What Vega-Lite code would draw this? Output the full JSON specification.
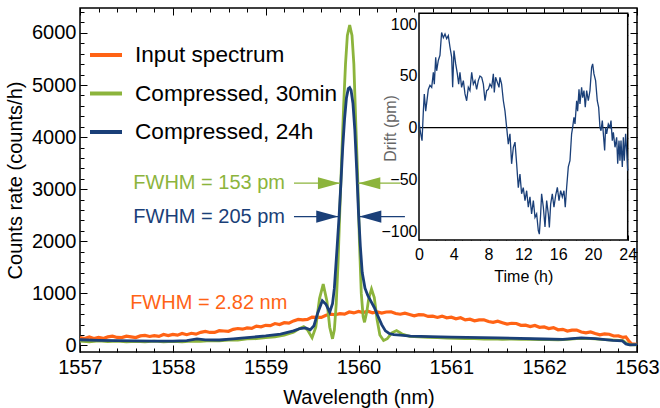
{
"$schema": "https://vega.github.io/schema/vega-lite/v6.json",
"width": 557, "height": 344,
"autosize": "none",
"padding": {"left": 80, "top": 8, "right": 23, "bottom": 56},
"background": "white",
"config": {
  "view": {"stroke": "black", "strokeWidth": 1.5},
  "font": "Liberation Sans",
  "axis": {"domain": false, "grid": false, "tickColor": "black", "tickWidth": 1, "labelColor": "black", "labelFont": "Liberation Sans", "titleFont": "Liberation Sans", "titleFontWeight": "normal", "titleColor": "black", "labelFlush": false, "labelOverlap": false, "labelBound": false}
},
"datasets": {
  "input": [
{"wl":1557.00,"c":152},{"wl":1557.05,"c":134},{"wl":1557.10,"c":163},{"wl":1557.15,"c":134},{"wl":1557.20,"c":156},{"wl":1557.25,"c":136},{"wl":1557.30,"c":165},{"wl":1557.35,"c":178},{"wl":1557.40,"c":154},{"wl":1557.45,"c":151},
{"wl":1557.50,"c":180},{"wl":1557.55,"c":166},{"wl":1557.60,"c":153},{"wl":1557.65,"c":184},{"wl":1557.70,"c":193},{"wl":1557.75,"c":173},{"wl":1557.80,"c":189},{"wl":1557.85,"c":175},{"wl":1557.90,"c":212},{"wl":1557.95,"c":190},
{"wl":1558.00,"c":212},{"wl":1558.05,"c":198},{"wl":1558.10,"c":232},{"wl":1558.15,"c":207},{"wl":1558.20,"c":234},{"wl":1558.25,"c":218},{"wl":1558.30,"c":252},{"wl":1558.35,"c":269},{"wl":1558.40,"c":250},{"wl":1558.45,"c":251},
{"wl":1558.50,"c":285},{"wl":1558.55,"c":278},{"wl":1558.60,"c":272},{"wl":1558.65,"c":310},{"wl":1558.70,"c":326},{"wl":1558.75,"c":313},{"wl":1558.80,"c":336},{"wl":1558.85,"c":329},{"wl":1558.90,"c":373},{"wl":1558.95,"c":358},
{"wl":1559.00,"c":387},{"wl":1559.05,"c":380},{"wl":1559.10,"c":421},{"wl":1559.15,"c":403},{"wl":1559.20,"c":437},{"wl":1559.25,"c":428},{"wl":1559.30,"c":472},{"wl":1559.35,"c":499},{"wl":1559.40,"c":490},{"wl":1559.45,"c":501},
{"wl":1559.50,"c":545},{"wl":1559.55,"c":541},{"wl":1559.60,"c":539},{"wl":1559.65,"c":580},{"wl":1559.70,"c":600},{"wl":1559.75,"c":590},{"wl":1559.80,"c":611},{"wl":1559.85,"c":601},{"wl":1559.90,"c":643},{"wl":1559.95,"c":625},
{"wl":1560.00,"c":652},{"wl":1560.05,"c":631},{"wl":1560.10,"c":658},{"wl":1560.15,"c":626},{"wl":1560.20,"c":646},{"wl":1560.25,"c":623},{"wl":1560.30,"c":643},{"wl":1560.35,"c":646},{"wl":1560.40,"c":613},{"wl":1560.45,"c":600},
{"wl":1560.50,"c":620},{"wl":1560.55,"c":595},{"wl":1560.60,"c":571},{"wl":1560.65,"c":591},{"wl":1560.70,"c":589},{"wl":1560.75,"c":558},{"wl":1560.80,"c":563},{"wl":1560.85,"c":538},{"wl":1560.90,"c":564},{"wl":1560.95,"c":531},
{"wl":1561.00,"c":542},{"wl":1561.05,"c":513},{"wl":1561.10,"c":532},{"wl":1561.15,"c":492},{"wl":1561.20,"c":504},{"wl":1561.25,"c":473},{"wl":1561.30,"c":492},{"wl":1561.35,"c":494},{"wl":1561.40,"c":460},{"wl":1561.45,"c":446},
{"wl":1561.50,"c":465},{"wl":1561.55,"c":437},{"wl":1561.60,"c":410},{"wl":1561.65,"c":427},{"wl":1561.70,"c":422},{"wl":1561.75,"c":388},{"wl":1561.80,"c":390},{"wl":1561.85,"c":362},{"wl":1561.90,"c":385},{"wl":1561.95,"c":349},
{"wl":1562.00,"c":357},{"wl":1562.05,"c":326},{"wl":1562.10,"c":343},{"wl":1562.15,"c":301},{"wl":1562.20,"c":311},{"wl":1562.25,"c":278},{"wl":1562.30,"c":295},{"wl":1562.35,"c":295},{"wl":1562.40,"c":259},{"wl":1562.45,"c":243},
{"wl":1562.50,"c":260},{"wl":1562.55,"c":231},{"wl":1562.60,"c":205},{"wl":1562.65,"c":221},{"wl":1562.70,"c":216},{"wl":1562.75,"c":182},{"wl":1562.80,"c":184},{"wl":1562.85,"c":155},{"wl":1562.88,"c":165},{"wl":1562.91,"c":90},
{"wl":1562.94,"c":30},{"wl":1563.00,"c":22}
  ],
  "c30": [
{"wl":1557.0,"c":85},{"wl":1557.1,"c":72},{"wl":1557.2,"c":88},{"wl":1557.3,"c":74},{"wl":1557.4,"c":84},{"wl":1557.5,"c":70},{"wl":1557.6,"c":80},{"wl":1557.7,"c":68},{"wl":1557.8,"c":82},{"wl":1557.9,"c":70},
{"wl":1558.0,"c":78},{"wl":1558.1,"c":72},{"wl":1558.2,"c":84},{"wl":1558.3,"c":80},{"wl":1558.4,"c":92},{"wl":1558.5,"c":88},{"wl":1558.6,"c":104},{"wl":1558.7,"c":102},{"wl":1558.8,"c":126},{"wl":1558.9,"c":130},
{"wl":1559.0,"c":152},{"wl":1559.1,"c":165},{"wl":1559.2,"c":200},{"wl":1559.3,"c":255},{"wl":1559.36,"c":320},{"wl":1559.41,"c":360},{"wl":1559.45,"c":300},{"wl":1559.50,"c":150},{"wl":1559.54,"c":350},{"wl":1559.58,"c":900},
{"wl":1559.62,"c":1178},{"wl":1559.66,"c":850},{"wl":1559.69,"c":350},{"wl":1559.72,"c":128},{"wl":1559.74,"c":300},{"wl":1559.76,"c":800},{"wl":1559.78,"c":1600},{"wl":1559.80,"c":2650},{"wl":1559.82,"c":3650},{"wl":1559.84,"c":4600},
{"wl":1559.86,"c":5400},{"wl":1559.88,"c":5950},{"wl":1559.905,"c":6150},{"wl":1559.93,"c":5950},{"wl":1559.95,"c":5400},{"wl":1559.97,"c":4300},{"wl":1559.99,"c":3300},{"wl":1560.01,"c":2000},{"wl":1560.03,"c":1000},{"wl":1560.05,"c":550},
{"wl":1560.065,"c":445},{"wl":1560.09,"c":650},{"wl":1560.11,"c":900},{"wl":1560.14,"c":1085},{"wl":1560.17,"c":920},{"wl":1560.20,"c":500},{"wl":1560.23,"c":200},{"wl":1560.27,"c":95},{"wl":1560.31,"c":130},{"wl":1560.36,"c":240},
{"wl":1560.41,"c":286},{"wl":1560.47,"c":220},{"wl":1560.55,"c":175},{"wl":1560.65,"c":168},{"wl":1560.75,"c":158},{"wl":1560.85,"c":150},{"wl":1560.95,"c":142},{"wl":1561.05,"c":138},{"wl":1561.15,"c":130},{"wl":1561.25,"c":134},
{"wl":1561.35,"c":125},{"wl":1561.45,"c":128},{"wl":1561.55,"c":120},{"wl":1561.65,"c":124},{"wl":1561.75,"c":116},{"wl":1561.85,"c":120},{"wl":1561.95,"c":112},{"wl":1562.05,"c":115},{"wl":1562.15,"c":108},{"wl":1562.25,"c":118},
{"wl":1562.35,"c":130},{"wl":1562.45,"c":138},{"wl":1562.55,"c":125},{"wl":1562.65,"c":112},{"wl":1562.75,"c":104},{"wl":1562.85,"c":92},{"wl":1562.89,"c":35},{"wl":1562.93,"c":12},{"wl":1563.0,"c":12}
  ],
  "c24": [
{"wl":1557.0,"c":110},{"wl":1557.2,"c":100},{"wl":1557.4,"c":95},{"wl":1557.6,"c":88},{"wl":1557.8,"c":84},{"wl":1558.0,"c":84},{"wl":1558.15,"c":95},{"wl":1558.26,"c":125},{"wl":1558.35,"c":108},{"wl":1558.5,"c":105},
{"wl":1558.65,"c":125},{"wl":1558.8,"c":150},{"wl":1559.0,"c":185},{"wl":1559.16,"c":220},{"wl":1559.3,"c":280},{"wl":1559.37,"c":325},{"wl":1559.43,"c":338},{"wl":1559.48,"c":300},{"wl":1559.52,"c":380},{"wl":1559.56,"c":620},
{"wl":1559.61,"c":860},{"wl":1559.65,"c":790},{"wl":1559.69,"c":640},{"wl":1559.72,"c":800},{"wl":1559.74,"c":1100},{"wl":1559.77,"c":1900},{"wl":1559.79,"c":2450},{"wl":1559.81,"c":3100},{"wl":1559.83,"c":3800},{"wl":1559.85,"c":4350},
{"wl":1559.87,"c":4750},{"wl":1559.89,"c":4930},{"wl":1559.905,"c":4950},{"wl":1559.92,"c":4900},{"wl":1559.94,"c":4650},{"wl":1559.96,"c":4150},{"wl":1559.98,"c":3400},{"wl":1560.00,"c":2550},{"wl":1560.02,"c":1900},{"wl":1560.04,"c":1400},
{"wl":1560.07,"c":1100},{"wl":1560.10,"c":960},{"wl":1560.13,"c":860},{"wl":1560.17,"c":730},{"wl":1560.21,"c":560},{"wl":1560.25,"c":400},{"wl":1560.29,"c":280},{"wl":1560.33,"c":230},{"wl":1560.38,"c":210},{"wl":1560.45,"c":200},
{"wl":1560.56,"c":180},{"wl":1560.77,"c":170},{"wl":1561.0,"c":160},{"wl":1561.5,"c":145},{"wl":1562.0,"c":125},{"wl":1562.2,"c":118},{"wl":1562.4,"c":145},{"wl":1562.55,"c":130},{"wl":1562.74,"c":100},{"wl":1562.84,"c":90},
{"wl":1562.88,"c":30},{"wl":1562.92,"c":12},{"wl":1563.0,"c":15}
  ],
  "notes": [
{"s":"Compressed, 30min","wl":1557.574,"c":3115,"label":"FWHM = 153 pm"},
{"s":"Compressed, 24h","wl":1557.574,"c":2474,"label":"FWHM = 205 pm"},
{"s":"Input spectrum","wl":1557.54,"c":816,"label":"FWHM = 2.82 nm"}
  ],
  "arrows": [
{"s":"Compressed, 30min","c":3115,"from":1559.305,"tip":1559.80,"dir":"right"},
{"s":"Compressed, 30min","c":3115,"from":1560.447,"tip":1559.998,"dir":"left"},
{"s":"Compressed, 24h","c":2474,"from":1559.305,"tip":1559.782,"dir":"right"},
{"s":"Compressed, 24h","c":2474,"from":1560.50,"tip":1560.009,"dir":"left"}
  ],
  "drift": [
{"t":0,"d":5},{"t":0.2,"d":-6},{"t":0.35,"d":-12.6},{"t":0.5,"d":16},{"t":0.61,"d":32.6},{"t":0.77,"d":16},{"t":1.07,"d":37},{"t":1.26,"d":41},{"t":1.46,"d":39},{"t":1.65,"d":53.5},
{"t":1.76,"d":42},{"t":1.92,"d":68},{"t":2.03,"d":55},{"t":2.22,"d":65},{"t":2.41,"d":70},{"t":2.6,"d":92},{"t":2.8,"d":87},{"t":2.99,"d":90.6},{"t":3.18,"d":86},{"t":3.37,"d":89},
{"t":3.56,"d":78},{"t":3.76,"d":68},{"t":3.87,"d":39},{"t":4.02,"d":74.5},{"t":4.22,"d":61.6},{"t":4.41,"d":52},{"t":4.56,"d":42},{"t":4.71,"d":53.5},{"t":4.9,"d":39},{"t":5.1,"d":45.5},
{"t":5.29,"d":32.6},{"t":5.48,"d":26},{"t":5.67,"d":39},{"t":5.86,"d":35.8},{"t":6.06,"d":53.5},{"t":6.25,"d":42},{"t":6.44,"d":45.5},{"t":6.63,"d":37},{"t":6.82,"d":45.5},{"t":7.01,"d":50},
{"t":7.21,"d":48.7},{"t":7.4,"d":42},{"t":7.59,"d":26},{"t":7.78,"d":35.8},{"t":7.97,"d":37},{"t":8.16,"d":42},{"t":8.36,"d":39},{"t":8.55,"d":52},{"t":8.66,"d":34},{"t":8.81,"d":48.7},
{"t":9.0,"d":44},{"t":9.2,"d":39},{"t":9.31,"d":48.7},{"t":9.5,"d":42},{"t":9.7,"d":26},{"t":9.89,"d":16},{"t":10.08,"d":0.3},{"t":10.27,"d":-16},{"t":10.46,"d":-6},{"t":10.65,"d":-35},
{"t":10.85,"d":-19},{"t":11.04,"d":-14},{"t":11.23,"d":-35},{"t":11.42,"d":-58},{"t":11.61,"d":-45},{"t":11.8,"d":-64},{"t":11.99,"d":-58},{"t":12.19,"d":-70.6},{"t":12.38,"d":-61},{"t":12.57,"d":-77},
{"t":12.76,"d":-67},{"t":12.95,"d":-83.5},{"t":13.15,"d":-70.6},{"t":13.34,"d":-86.8},{"t":13.53,"d":-83.5},{"t":13.72,"d":-99.7},{"t":13.84,"d":-103},{"t":13.99,"d":-83.5},{"t":14.1,"d":-64},{"t":14.3,"d":-77},
{"t":14.49,"d":-96},{"t":14.68,"d":-70.6},{"t":14.87,"d":-83.5},{"t":14.99,"d":-96.5},{"t":15.14,"d":-74},{"t":15.33,"d":-64},{"t":15.52,"d":-77},{"t":15.71,"d":-65.8},{"t":15.91,"d":-57.7},{"t":16.1,"d":-70.6},
{"t":16.29,"d":-61},{"t":16.48,"d":-67},{"t":16.67,"d":-61},{"t":16.82,"d":-77},{"t":16.98,"d":-57.7},{"t":17.17,"d":-38},{"t":17.36,"d":-32},{"t":17.55,"d":-6},{"t":17.67,"d":0.3},{"t":17.82,"d":10},
{"t":17.94,"d":3.5},{"t":18.13,"d":26},{"t":18.24,"d":16},{"t":18.4,"d":37},{"t":18.51,"d":23},{"t":18.7,"d":39},{"t":18.82,"d":29},{"t":18.97,"d":35.8},{"t":19.12,"d":19.7},{"t":19.28,"d":35.8},
{"t":19.47,"d":26},{"t":19.66,"d":35.8},{"t":19.85,"d":58.4},{"t":19.97,"d":61.6},{"t":20.12,"d":52},{"t":20.31,"d":45.5},{"t":20.5,"d":26},{"t":20.66,"d":19.7},{"t":20.81,"d":0.3},{"t":20.93,"d":-3},
{"t":21.08,"d":6.8},{"t":21.2,"d":-6},{"t":21.35,"d":-22},{"t":21.46,"d":0.3},{"t":21.58,"d":-6},{"t":21.77,"d":3.5},{"t":21.96,"d":0.3},{"t":22.08,"d":6.8},{"t":22.23,"d":-12.6},{"t":22.35,"d":-4.5},
{"t":22.54,"d":-19},{"t":22.73,"d":-9.4},{"t":22.85,"d":-35},{"t":23.0,"d":-12.6},{"t":23.11,"d":-32},{"t":23.23,"d":-12.6},{"t":23.38,"d":-38},{"t":23.5,"d":-9.4},{"t":23.61,"d":-32},{"t":23.76,"d":-6},
{"t":23.88,"d":-22},{"t":24.0,"d":-41.6}
  ]
},
"layer": [
 {
  "layer": [
   {
    "data": {"name": "input"},
    "mark": {"type": "line", "strokeWidth": 3.2},
    "encoding": {
     "x": {"field": "wl", "type": "quantitative", "scale": {"domain": [1557, 1563], "nice": false, "zero": false},
       "axis": {"orient": "bottom", "values": [1557,1558,1559,1560,1561,1562,1563], "format": "d", "tickSize": -7, "labelFontSize": 20, "labelPadding": 12, "title": "Wavelength (nm)", "titleFontSize": 20, "titleX": 278.5, "titleY": 45, "titleBaseline": "middle", "titleAlign": "center"}},
     "y": {"field": "c", "type": "quantitative", "scale": {"domain": [-125, 6478], "nice": false, "zero": false},
       "axis": {"orient": "left", "values": [0,1000,2000,3000,4000,5000,6000], "format": "d", "tickSize": -7, "labelFontSize": 20, "labelPadding": 11, "title": "Counts rate (counts/h)", "titleFontSize": 20, "titleX": -65, "titleY": 172, "titleBaseline": "middle", "titleAlign": "center", "titleAngle": -90}},
     "color": {"datum": "Input spectrum", "type": "nominal",
       "scale": {"domain": ["Input spectrum", "Compressed, 30min", "Compressed, 24h"], "range": ["#FF6315", "#8CB43C", "#1A3F78"]},
       "legend": {"orient": "none", "legendX": 8, "legendY": 29, "title": null, "symbolType": "stroke", "symbolStrokeWidth": 4, "symbolSize": 1024, "labelFontSize": 22.6, "labelFont": "Liberation Sans", "labelColor": "black", "labelOffset": 11, "rowPadding": 8.5, "padding": 0, "labelLimit": 400}}
    }
   },
   {
    "data": {"name": "c30"},
    "mark": {"type": "line", "strokeWidth": 2.8},
    "encoding": {
     "x": {"field": "wl", "type": "quantitative", "axis": {"orient": "bottom", "values": [1557,1557.2,1557.4,1557.6,1557.8,1558,1558.2,1558.4,1558.6,1558.8,1559,1559.2,1559.4,1559.6,1559.8,1560,1560.2,1560.4,1560.6,1560.8,1561,1561.2,1561.4,1561.6,1561.8,1562,1562.2,1562.4,1562.6,1562.8,1563], "tickSize": -4, "labels": false, "title": null}},
     "y": {"field": "c", "type": "quantitative", "axis": {"orient": "left", "values": [0,200,400,600,800,1000,1200,1400,1600,1800,2000,2200,2400,2600,2800,3000,3200,3400,3600,3800,4000,4200,4400,4600,4800,5000,5200,5400,5600,5800,6000,6200,6400], "tickSize": -4, "labels": false, "title": null}},
     "color": {"datum": "Compressed, 30min", "type": "nominal"}
    }
   },
   {
    "data": {"name": "c24"},
    "mark": {"type": "line", "strokeWidth": 2.8},
    "encoding": {
     "x": {"field": "wl", "type": "quantitative", "axis": {"orient": "top", "values": [1557,1558,1559,1560,1561,1562,1563], "tickSize": -7, "labels": false, "title": null}},
     "y": {"field": "c", "type": "quantitative", "axis": {"orient": "right", "values": [0,1000,2000,3000,4000,5000,6000], "tickSize": -7, "labels": false, "title": null}},
     "color": {"datum": "Compressed, 24h", "type": "nominal"}
    }
   },
   {
    "data": {"name": "notes"},
    "mark": {"type": "text", "align": "left", "baseline": "middle", "fontSize": 20, "font": "Liberation Sans"},
    "encoding": {
     "x": {"field": "wl", "type": "quantitative", "axis": {"orient": "top", "values": [1557,1557.2,1557.4,1557.6,1557.8,1558,1558.2,1558.4,1558.6,1558.8,1559,1559.2,1559.4,1559.6,1559.8,1560,1560.2,1560.4,1560.6,1560.8,1561,1561.2,1561.4,1561.6,1561.8,1562,1562.2,1562.4,1562.6,1562.8,1563], "tickSize": -4, "labels": false, "title": null}},
     "y": {"field": "c", "type": "quantitative", "axis": {"orient": "right", "values": [0,200,400,600,800,1000,1200,1400,1600,1800,2000,2200,2400,2600,2800,3000,3200,3400,3600,3800,4000,4200,4400,4600,4800,5000,5200,5400,5600,5800,6000,6200,6400], "tickSize": -4, "labels": false, "title": null}},
     "text": {"field": "label"},
     "fill": {"field": "s", "type": "nominal", "legend": null, "scale": {"domain": ["Input spectrum", "Compressed, 30min", "Compressed, 24h"], "range": ["#FF6315", "#8CB43C", "#1A3F78"]}}
    }
   },
   {
    "data": {"name": "arrows"},
    "mark": {"type": "rule", "strokeWidth": 1.2},
    "encoding": {
     "x": {"field": "from", "type": "quantitative", "axis": null},
     "x2": {"field": "tip"},
     "y": {"field": "c", "type": "quantitative", "axis": null},
     "stroke": {"field": "s", "type": "nominal", "legend": null, "scale": {"domain": ["Input spectrum", "Compressed, 30min", "Compressed, 24h"], "range": ["#FF6315", "#8CB43C", "#1A3F78"]}}
    }
   },
   {
    "data": {"name": "arrows"},
    "transform": [{"filter": "datum.dir == 'right'"}],
    "mark": {"type": "point", "filled": true, "opacity": 1, "size": 484, "shape": "M0,0L-2,-0.55L-2,0.55Z", "strokeWidth": 0},
    "encoding": {
     "x": {"field": "tip", "type": "quantitative", "axis": null},
     "y": {"field": "c", "type": "quantitative", "axis": null},
     "fill": {"field": "s", "type": "nominal", "legend": null}
    }
   },
   {
    "data": {"name": "arrows"},
    "transform": [{"filter": "datum.dir == 'left'"}],
    "mark": {"type": "point", "filled": true, "opacity": 1, "size": 484, "shape": "M0,0L2,-0.55L2,0.55Z", "strokeWidth": 0},
    "encoding": {
     "x": {"field": "tip", "type": "quantitative", "axis": null},
     "y": {"field": "c", "type": "quantitative", "axis": null},
     "fill": {"field": "s", "type": "nominal", "legend": null}
    }
   }
  ],
  "resolve": {"axis": {"x": "independent", "y": "independent"}}
 },
 {
  "layer": [
   {
    "data": {"values": [{}]},
    "mark": {"type": "rect", "fill": "white", "stroke": "black", "strokeWidth": 1.5},
    "encoding": {
     "x": {"datum": 0, "type": "quantitative", "scale": {"domain": [0, 24], "range": [339, 547.7], "nice": false, "zero": false},
       "axis": {"orient": "bottom", "offset": -112, "values": [0,4,8,12,16,20,24], "format": "d", "tickSize": -5, "labelFontSize": 16, "labelPadding": 11, "title": "Time (h)", "titleFontSize": 16, "titleX": 443.3, "titleY": 36.7, "titleBaseline": "middle", "titleAlign": "center"}},
     "x2": {"datum": 24},
     "y": {"datum": -108.7, "type": "quantitative", "scale": {"domain": [-108.7, 110.6], "range": [232, 5.3], "nice": false, "zero": false},
       "axis": {"orient": "left", "offset": -339, "values": [-100,-50,0,50,100], "format": "d", "tickSize": -5, "labelFontSize": 16, "labelPadding": 7, "title": "Drift (pm)", "titleFontSize": 16, "titleColor": "#666666", "titleX": -29, "titleY": 120, "titleBaseline": "middle", "titleAlign": "center", "titleAngle": -90}},
     "y2": {"datum": 110.6}
    }
   },
   {
    "data": {"values": [{}]},
    "mark": {"type": "rule", "color": "black", "strokeWidth": 1.2},
    "encoding": {
     "x": {"datum": 0, "type": "quantitative", "axis": {"orient": "bottom", "offset": -112, "values": [0,1,2,3,4,5,6,7,8,9,10,11,12,13,14,15,16,17,18,19,20,21,22,23,24], "tickSize": -3, "labels": false, "title": null}},
     "x2": {"datum": 24},
     "y": {"datum": 0, "type": "quantitative", "axis": {"orient": "left", "offset": -339, "values": [-100,-90,-80,-70,-60,-50,-40,-30,-20,-10,0,10,20,30,40,50,60,70,80,90,100,110], "tickSize": -3, "labels": false, "title": null}}
    }
   },
   {
    "data": {"name": "drift"},
    "mark": {"type": "line", "color": "#1A3F78", "strokeWidth": 1.3},
    "encoding": {
     "x": {"field": "t", "type": "quantitative", "axis": {"orient": "top", "offset": -5.3, "values": [0,1,2,3,4,5,6,7,8,9,10,11,12,13,14,15,16,17,18,19,20,21,22,23,24], "tickSize": -3, "labels": false, "title": null}},
     "y": {"field": "d", "type": "quantitative", "axis": {"orient": "right", "offset": -9.3, "values": [-100,-90,-80,-70,-60,-50,-40,-30,-20,-10,0,10,20,30,40,50,60,70,80,90,100,110], "tickSize": -3, "labels": false, "title": null}}
    }
   }
  ],
  "resolve": {"axis": {"x": "independent", "y": "independent"}}
 }
],
"resolve": {"scale": {"x": "independent", "y": "independent"}}
}
